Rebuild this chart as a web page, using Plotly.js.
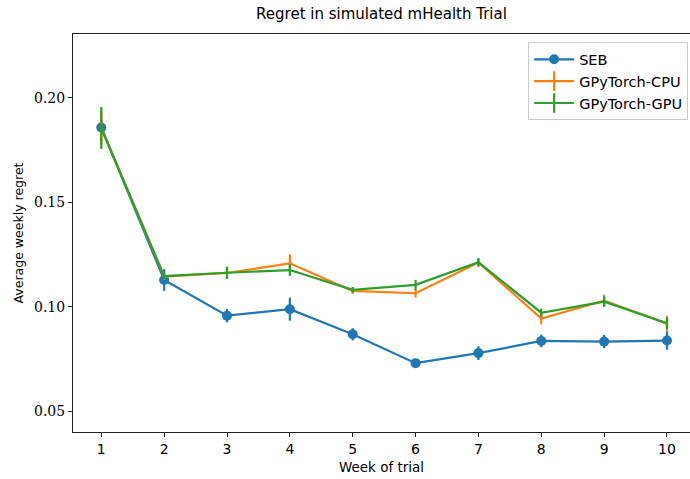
<!DOCTYPE html>
<html>
<head>
<meta charset="utf-8">
<script src="https://cdn.plot.ly/plotly-3.0.1.min.js"></script>
<style>html,body{margin:0;padding:0;overflow:hidden;background:#fff;}</style>
</head>
<body>
<div id="chart" style="width:690px;height:479px;"></div>
<script>
const weeks = [1, 2, 3, 4, 5, 6, 7, 8, 9, 10];
const sebMean = [0.1857, 0.1128, 0.0958, 0.0989, 0.0869, 0.0731, 0.0779, 0.0837, 0.0834, 0.0839];
const sebErr  = [0.0030, 0.0052, 0.0032, 0.0055, 0.0029, 0.0008, 0.0033, 0.0030, 0.0032, 0.0044];
const cpuMean = [0.1855, 0.1145, 0.1162, 0.1208, 0.1076, 0.1065, 0.1212, 0.0944, 0.1030, 0.0920];
const cpuErr  = [0.0080, 0.0015, 0.0028, 0.0043, 0.0014, 0.0021, 0.0020, 0.0028, 0.0028, 0.0037];
const gpuMean = [0.1855, 0.1147, 0.1163, 0.1176, 0.1081, 0.1105, 0.1213, 0.0972, 0.1025, 0.0922];
const gpuErr  = [0.0100, 0.0015, 0.0029, 0.0028, 0.0014, 0.0024, 0.0020, 0.0020, 0.0025, 0.0028];
const seriesNames = ['SEB', 'GPyTorch-CPU', 'GPyTorch-GPU'];
const colors = ['#1f77b4', '#ff7f0e', '#2ca02c'];

function errTrace(y, e, color, withMarker) {
  const t = {
    x: weeks, y: y, type: 'scatter', mode: withMarker ? 'lines+markers' : 'lines',
    line: {color: color, width: 2.2},
    error_y: {type: 'data', array: e, visible: true, color: color, thickness: 2.2, width: 0},
    showlegend: false, hoverinfo: 'skip'
  };
  if (withMarker) t.marker = {color: color, size: 10, symbol: 'circle'};
  return t;
}
function legTrace(name, color, symbol) {
  return {
    x: [null], y: [null], type: 'scatter', mode: 'lines+markers', name: name,
    line: {color: color, width: 2.2},
    marker: symbol === 'circle'
      ? {color: color, size: 10, symbol: 'circle'}
      : {color: color, size: 14, symbol: 'line-ns-open', line: {color: color, width: 2.2}},
    showlegend: true
  };
}

const data = [
  errTrace(sebMean, sebErr, colors[0], true),
  errTrace(cpuMean, cpuErr, colors[1], false),
  errTrace(gpuMean, gpuErr, colors[2], false),
  legTrace(seriesNames[0], colors[0], 'circle'),
  legTrace(seriesNames[1], colors[1], 'line'),
  legTrace(seriesNames[2], colors[2], 'line')
];

const sans = 'DejaVu Sans, sans-serif';
const serif = 'DejaVu Serif, serif';
const layout = {
  width: 690, height: 479,
  margin: {l: 73, r: 0, t: 34, b: 47},
  paper_bgcolor: '#fff', plot_bgcolor: '#fff',
  title: {text: 'Regret in simulated mHealth Trial', font: {family: sans, size: 15, color: '#000'},
          x: 0.5, xref: 'paper', xanchor: 'center', y: 0.972, yref: 'container', yanchor: 'middle'},
  xaxis: {
    range: [0.55, 10.366], tickmode: 'array', tickvals: weeks, ticktext: weeks.map(String),
    showgrid: false, zeroline: false, showline: true, mirror: true, linecolor: '#222', linewidth: 1,
    ticks: 'outside', ticklen: 4, tickwidth: 1, tickcolor: '#222',
    tickfont: {family: sans, size: 14, color: '#000'},
    title: {text: 'Week of trial', font: {family: sans, size: 13.5, color: '#000'}, standoff: 6}
  },
  yaxis: {
    range: [0.0402, 0.2304], tickmode: 'array', tickvals: [0.05, 0.10, 0.15, 0.20],
    ticktext: ['0.05', '0.10', '0.15', '0.20'],
    showgrid: false, zeroline: false, showline: true, mirror: false, linecolor: '#222', linewidth: 1,
    ticks: 'outside', ticklen: 4, tickwidth: 1, tickcolor: '#222',
    tickfont: {family: serif, size: 14, color: '#000'},
    title: {text: 'Average weekly regret', font: {family: sans, size: 12.5, color: '#000'}, standoff: 7}
  },
  legend: {
    x: 0.997, xanchor: 'right', y: 0.979, yanchor: 'top',
    bgcolor: 'rgba(255,255,255,0.8)', bordercolor: '#cccccc', borderwidth: 1,
    font: {family: sans, size: 14.5, color: '#000'}, itemwidth: 40, tracegroupgap: 0
  },
  showlegend: true
};

Plotly.newPlot('chart', data, layout, {displayModeBar: false, staticPlot: true});
</script>
</body>
</html>
